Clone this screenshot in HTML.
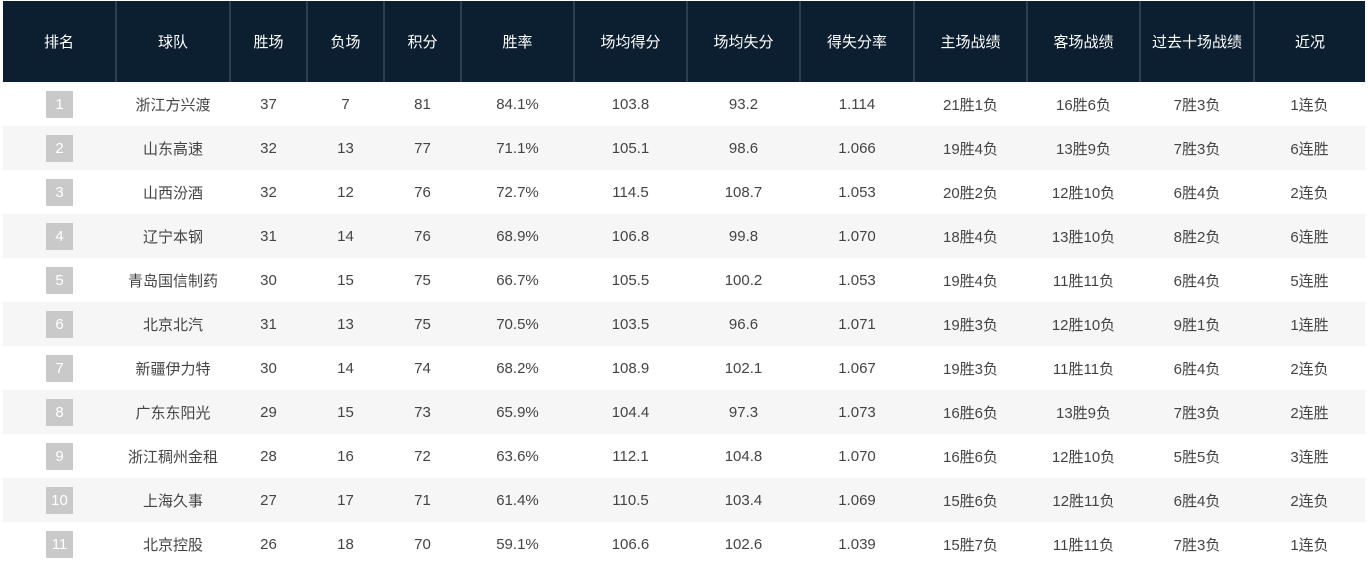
<!DOCTYPE html>
<html><head><meta charset="utf-8"><style>
body{margin:0;background:#fff;width:1368px;height:547px;overflow:hidden;font-family:"Liberation Sans","Noto Sans CJK SC",sans-serif;}
table{position:absolute;left:3px;top:1px;border-collapse:collapse;table-layout:fixed;width:1362px;}
th{background:#0c1f31;color:#fff;font-weight:normal;font-size:15px;height:81px;border-left:2px solid #2a3f52;padding:0;}
th:first-child{border-left:none}
td{height:44px;text-align:center;font-size:15px;color:#444;padding:0;}
tr:nth-child(odd) td{background:#f6f6f6}
.b{display:inline-block;width:27px;height:27px;line-height:27px;background:#c9c9c9;color:#fff;font-size:15px;}
</style></head><body>
<table>
<colgroup><col style="width:113px"><col style="width:114px"><col style="width:77px"><col style="width:77px"><col style="width:77px"><col style="width:113px"><col style="width:113px"><col style="width:113px"><col style="width:114px"><col style="width:113px"><col style="width:113px"><col style="width:114px"><col style="width:111px"></colgroup>
<tr><th>排名</th><th>球队</th><th>胜场</th><th>负场</th><th>积分</th><th>胜率</th><th>场均得分</th><th>场均失分</th><th>得失分率</th><th>主场战绩</th><th>客场战绩</th><th>过去十场战绩</th><th>近况</th></tr>
<tr><td><span class="b">1</span></td><td>浙江方兴渡</td><td>37</td><td>7</td><td>81</td><td>84.1%</td><td>103.8</td><td>93.2</td><td>1.114</td><td>21胜1负</td><td>16胜6负</td><td>7胜3负</td><td>1连负</td></tr>
<tr><td><span class="b">2</span></td><td>山东高速</td><td>32</td><td>13</td><td>77</td><td>71.1%</td><td>105.1</td><td>98.6</td><td>1.066</td><td>19胜4负</td><td>13胜9负</td><td>7胜3负</td><td>6连胜</td></tr>
<tr><td><span class="b">3</span></td><td>山西汾酒</td><td>32</td><td>12</td><td>76</td><td>72.7%</td><td>114.5</td><td>108.7</td><td>1.053</td><td>20胜2负</td><td>12胜10负</td><td>6胜4负</td><td>2连负</td></tr>
<tr><td><span class="b">4</span></td><td>辽宁本钢</td><td>31</td><td>14</td><td>76</td><td>68.9%</td><td>106.8</td><td>99.8</td><td>1.070</td><td>18胜4负</td><td>13胜10负</td><td>8胜2负</td><td>6连胜</td></tr>
<tr><td><span class="b">5</span></td><td>青岛国信制药</td><td>30</td><td>15</td><td>75</td><td>66.7%</td><td>105.5</td><td>100.2</td><td>1.053</td><td>19胜4负</td><td>11胜11负</td><td>6胜4负</td><td>5连胜</td></tr>
<tr><td><span class="b">6</span></td><td>北京北汽</td><td>31</td><td>13</td><td>75</td><td>70.5%</td><td>103.5</td><td>96.6</td><td>1.071</td><td>19胜3负</td><td>12胜10负</td><td>9胜1负</td><td>1连胜</td></tr>
<tr><td><span class="b">7</span></td><td>新疆伊力特</td><td>30</td><td>14</td><td>74</td><td>68.2%</td><td>108.9</td><td>102.1</td><td>1.067</td><td>19胜3负</td><td>11胜11负</td><td>6胜4负</td><td>2连负</td></tr>
<tr><td><span class="b">8</span></td><td>广东东阳光</td><td>29</td><td>15</td><td>73</td><td>65.9%</td><td>104.4</td><td>97.3</td><td>1.073</td><td>16胜6负</td><td>13胜9负</td><td>7胜3负</td><td>2连胜</td></tr>
<tr><td><span class="b">9</span></td><td>浙江稠州金租</td><td>28</td><td>16</td><td>72</td><td>63.6%</td><td>112.1</td><td>104.8</td><td>1.070</td><td>16胜6负</td><td>12胜10负</td><td>5胜5负</td><td>3连胜</td></tr>
<tr><td><span class="b">10</span></td><td>上海久事</td><td>27</td><td>17</td><td>71</td><td>61.4%</td><td>110.5</td><td>103.4</td><td>1.069</td><td>15胜6负</td><td>12胜11负</td><td>6胜4负</td><td>2连负</td></tr>
<tr><td><span class="b">11</span></td><td>北京控股</td><td>26</td><td>18</td><td>70</td><td>59.1%</td><td>106.6</td><td>102.6</td><td>1.039</td><td>15胜7负</td><td>11胜11负</td><td>7胜3负</td><td>1连负</td></tr>
</table>
</body></html>
